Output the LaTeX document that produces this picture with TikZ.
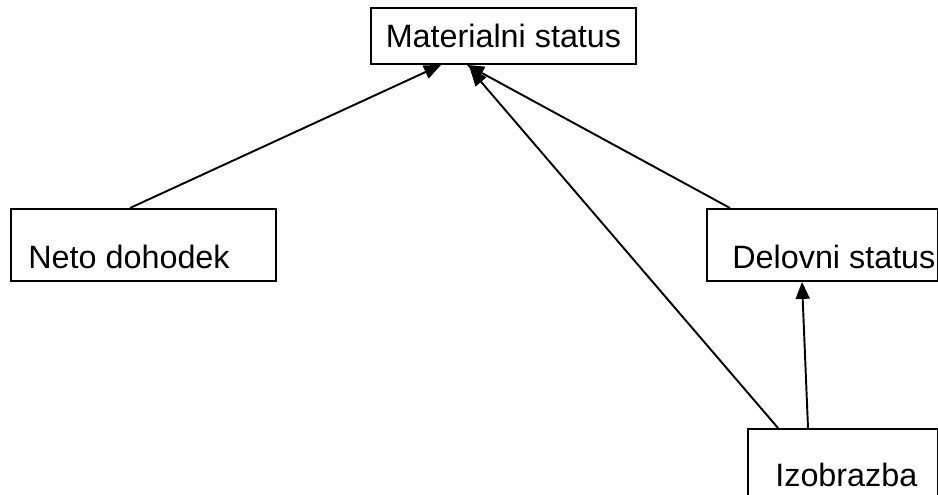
\documentclass[tikz,border=0pt]{standalone}
\usepackage{fontspec}
\setmainfont{Liberation Sans}
\usetikzlibrary{arrows.meta}
\tikzstyle{status} = [rectangle,
minimum width=5.3cm,
minimum height=1.12cm,
inner sep=0pt,
text centered,
draw=black,
line width=1.1pt,
font=\fontsize{18.4}{22}\selectfont]
\tikzstyle{factor} = [rectangle,
minimum height=1.44cm,
inner sep=0pt,
draw=black,
line width=1.1pt,
label distance=0pt]
\tikzstyle{factortext} = [anchor=base west,
inner sep=0pt,
font=\fontsize{18.4}{22}\selectfont]
\tikzstyle{arrow} = [line width=1.1pt, -{Triangle[length=0.34cm,width=0.28cm]}]

\begin{document}
\begin{tikzpicture}
			\clip (0,0) rectangle (18.76,-9.9);
			\node (mat) [status, anchor=north west] at (7.4,-0.14) {Materialni status};
			\node (neto) [factor, anchor=north west, minimum width=5.3cm,
				label={[factortext, xshift=0.36cm, yshift=0.26cm]south west:Neto dohodek}] at (0.2,-4.16) {};
			\node (delo) [factor, anchor=north west, minimum width=4.62cm,
				label={[factortext, xshift=0.52cm, yshift=0.26cm]south west:Delovni status}] at (14.12,-4.16) {};
			\node (izo) [factor, anchor=north west, minimum width=3.8cm,
				label={[factortext, xshift=0.56cm, yshift=0.3cm]south west:Izobrazba}] at (14.94,-8.56) {};

			\draw[arrow] ([xshift=2.4cm]neto.north west) -- ([xshift=1.42cm]mat.south west);
			\draw[arrow] ([xshift=0.48cm]delo.north west) -- ([xshift=1.94cm]mat.south west);
			\draw[arrow] ([xshift=0.62cm]izo.north west) -- ([xshift=2.0cm,yshift=-0.08cm]mat.south west);
			\draw[arrow] ([xshift=1.22cm]izo.north west) -- ([xshift=1.92cm]delo.south west);
		\end{tikzpicture}
\end{document}
